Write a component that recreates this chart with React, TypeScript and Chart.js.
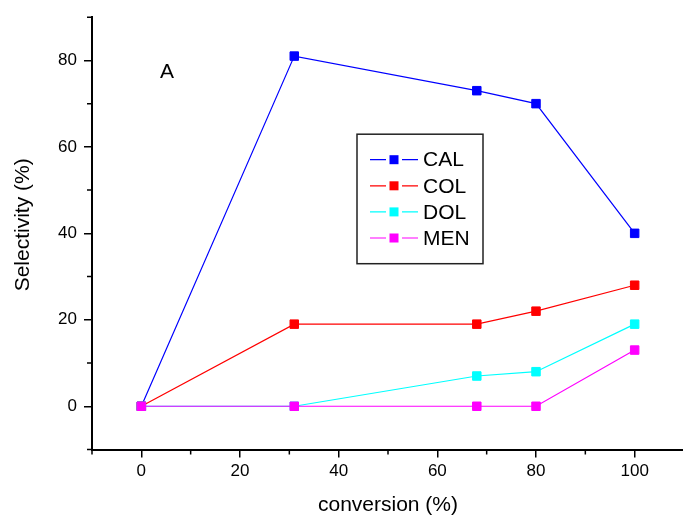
import React, { useEffect, useRef } from 'react';
import { Chart, registerables } from 'chart.js';

Chart.register(...registerables);

// ---- data ----
const conversion = [0, 31, 68, 80, 100];
const calValues = [0, 81, 73, 70, 40];
const colValues = [0, 19, 19, 22, 28];
const dolValues = [0, 0, 7, 8, 19];
const menValues = [0, 0, 0, 0, 13];
const seriesNames = ['CAL', 'COL', 'DOL', 'MEN'];
const seriesColors = ['#0000ff', '#ff0000', '#00ffff', '#ff00ff'];
const xTickLabels = [0, 20, 40, 60, 80, 100];
const yTickLabels = [0, 20, 40, 60, 80];
const panelLabel = 'A';
const xTitle = 'conversion (%)';
const yTitle = 'Selectivity (%)';

const FONT = '"Liberation Sans", Arial, Helvetica, sans-serif';

const decorPlugin = {
  id: 'decor',
  afterDraw(chart: any) {
    const { ctx, chartArea, scales } = chart;
    const xs = scales.x;
    const ys = scales.y;
    ctx.save();
    ctx.strokeStyle = '#000';
    ctx.lineWidth = 1.5;
    ctx.beginPath();
    for (let v = -10; v <= 110; v += 20) {
      const px = xs.getPixelForValue(v);
      ctx.moveTo(px, chartArea.bottom);
      ctx.lineTo(px, chartArea.bottom + 5);
    }
    for (let v = -10; v <= 90; v += 20) {
      const py = ys.getPixelForValue(v);
      ctx.moveTo(chartArea.left - 5, py);
      ctx.lineTo(chartArea.left, py);
    }
    ctx.stroke();

    // y axis title
    ctx.save();
    ctx.fillStyle = '#000';
    ctx.font = `21px ${FONT}`;
    ctx.textAlign = 'center';
    ctx.textBaseline = 'alphabetic';
    ctx.translate(chartArea.left - 63.5, (chartArea.top + chartArea.bottom) / 2 - 8.5);
    ctx.rotate(-Math.PI / 2);
    ctx.fillText(yTitle, 0, 0);
    ctx.restore();

    // panel label
    ctx.fillStyle = '#000';
    ctx.font = `21px ${FONT}`;
    ctx.textAlign = 'left';
    ctx.textBaseline = 'alphabetic';
    ctx.fillText(panelLabel, chartArea.left + 68, chartArea.top + 61);

    // legend
    const lx = chartArea.left + 265;
    const ly = chartArea.top + 117;
    const lw = 126;
    const lh = 129.5;
    ctx.strokeStyle = '#222';
    ctx.lineWidth = 1.5;
    ctx.strokeRect(lx, ly, lw, lh);
    chart.data.datasets.forEach((ds: any, i: number) => {
      const cy = ly + 25.5 + i * 26.1;
      ctx.strokeStyle = ds.borderColor;
      ctx.lineWidth = 1.2;
      ctx.beginPath();
      ctx.moveTo(lx + 13, cy);
      ctx.lineTo(lx + 29, cy);
      ctx.moveTo(lx + 45, cy);
      ctx.lineTo(lx + 61, cy);
      ctx.stroke();
      ctx.fillStyle = ds.borderColor;
      ctx.fillRect(lx + 32.5, cy - 4.5, 9, 9);
      ctx.fillStyle = '#000';
      ctx.font = `21px ${FONT}`;
      ctx.textAlign = 'left';
      ctx.textBaseline = 'middle';
      ctx.fillText(ds.label, lx + 66, cy + 1);
    });
    ctx.restore();
  },
};

export default function App() {
  const ref = useRef<HTMLCanvasElement>(null);
  useEffect(() => {
    if (!ref.current) return;
    const allSeries = [calValues, colValues, dolValues, menValues];
    const chart = new Chart(ref.current, {
      type: 'line',
      data: {
        datasets: allSeries.map((vals, i) => ({
          label: seriesNames[i],
          data: conversion.map((x, j) => ({ x, y: vals[j] })),
          borderColor: seriesColors[i],
          backgroundColor: seriesColors[i],
          pointBackgroundColor: seriesColors[i],
          pointBorderColor: seriesColors[i],
          borderWidth: 1.2,
          pointStyle: 'rect',
          pointRadius: 6,
          pointBorderWidth: 1,
          tension: 0,
          order: 4 - i,
        })),
      },
      options: {
        responsive: false,
        animation: false,
        layout: { padding: { top: 15, right: 0, bottom: 0, left: 0 } },
        plugins: {
          legend: { display: false },
          tooltip: { enabled: false },
        },
        scales: {
          x: {
            type: 'linear',
            min: -10,
            max: 110,
            afterFit: (s: any) => { s.height = 67.5; },
            ticks: {
              stepSize: 10,
              autoSkip: false,
              maxRotation: 0,
              padding: 4,
              color: '#000',
              font: { family: FONT, size: 17 },
              callback: (v: any) => (xTickLabels.includes(v) ? String(v) : ''),
            },
            grid: {
              drawOnChartArea: false,
              drawTicks: true,
              tickLength: 8,
              lineWidth: 1.5,
              color: (c: any) => (c.tick && xTickLabels.includes(c.tick.value) ? '#000' : 'rgba(0,0,0,0)'),
            },
            border: { display: true, color: '#000', width: 2 },
            title: {
              display: true,
              text: xTitle,
              color: '#000',
              font: { family: FONT, size: 21, lineHeight: 1.1 },
              padding: { top: 0, bottom: 0 },
            },
          },
          y: {
            type: 'linear',
            min: -10,
            max: 90,
            afterFit: (s: any) => { s.width = 92; },
            ticks: {
              stepSize: 10,
              autoSkip: false,
              padding: 7,
              color: '#000',
              font: { family: FONT, size: 17 },
              callback: (v: any) => (yTickLabels.includes(v) ? String(v) : ''),
            },
            grid: {
              drawOnChartArea: false,
              drawTicks: true,
              tickLength: 8,
              lineWidth: 1.5,
              color: (c: any) => (c.tick && yTickLabels.includes(c.tick.value) ? '#000' : 'rgba(0,0,0,0)'),
            },
            border: { display: true, color: '#000', width: 2 },
            title: { display: false },
          },
        },
      },
      plugins: [decorPlugin],
    });
    return () => chart.destroy();
  }, []);
  return (
    <div style={{ position: 'fixed', left: 0, top: 0, width: 683, height: 517, background: '#fff', overflow: 'hidden' }}>
      <canvas ref={ref} width={691} height={517} style={{ display: 'block' }} />
    </div>
  );
}
